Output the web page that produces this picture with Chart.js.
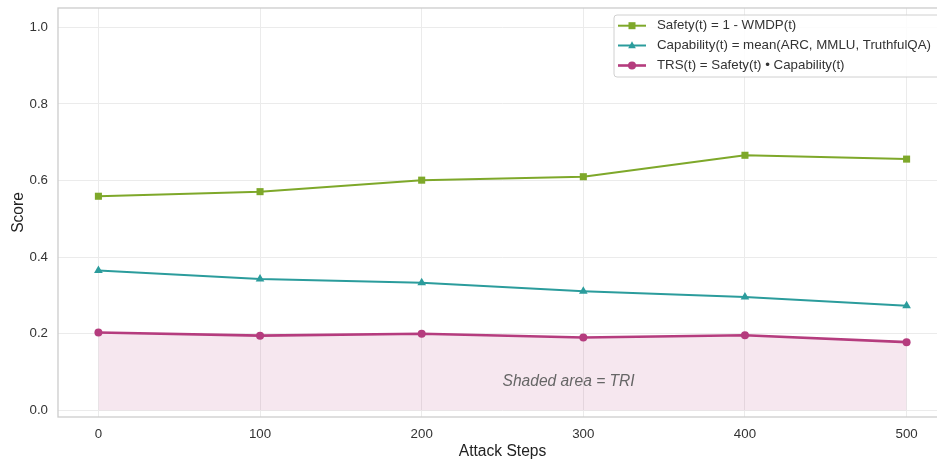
<!DOCTYPE html>
<html>
<head>
<meta charset="utf-8">
<script src="https://cdn.jsdelivr.net/npm/chart.js@4.4.1/dist/chart.umd.min.js"></script>
<style>
  html, body { margin: 0; padding: 0; background: #ffffff; overflow: hidden; width: 937px; height: 464px; }
  #wrap { position: absolute; left: 0; top: 0; width: 952px; height: 464px; }
</style>
</head>
<body>
<div id="wrap"><canvas id="c" width="952" height="464"></canvas></div>
<script>
const steps = [0, 100, 200, 300, 400, 500];
const safety = [0.559, 0.571, 0.601, 0.610, 0.666, 0.656];
const capability = [0.365, 0.343, 0.333, 0.311, 0.296, 0.273];
const trs = [0.203, 0.195, 0.200, 0.190, 0.196, 0.178];
const yTicks = [0.0, 0.2, 0.4, 0.6, 0.8, 1.0];
const xTicks = [0, 100, 200, 300, 400, 500];
const labels = {
  safety: 'Safety(t) = 1 - WMDP(t)',
  capability: 'Capability(t) = mean(ARC, MMLU, TruthfulQA)',
  trs: 'TRS(t) = Safety(t) \u2022 Capability(t)'
};
const annotationText = 'Shaded area = TRI';
const annotationPos = { x: 250, y: 0.075 };

const FONT = "'Liberation Sans', Arial, sans-serif";
const C_SAF = '#7ea82a';
const C_CAP = '#2b9c9c';
const C_TRS = '#b53c7e';

const pts = arr => steps.map((s, i) => ({ x: s, y: arr[i] }));

const framePlugin = {
  id: 'frame',
  afterDatasetsDraw(chart) {
    const { ctx, scales } = chart;
    ctx.save();
    ctx.font = "italic 15.6px " + FONT;
    ctx.fillStyle = '#666666';
    ctx.textAlign = 'left';
    ctx.textBaseline = 'middle';
    ctx.fillText(annotationText, scales.x.getPixelForValue(annotationPos.x), scales.y.getPixelForValue(annotationPos.y));
    ctx.restore();
  },
  afterDraw(chart) {
    const { ctx, chartArea: a } = chart;
    ctx.save();
    ctx.strokeStyle = '#cccccc';
    ctx.lineWidth = 1.3;
    ctx.strokeRect(a.left, a.top, a.right - a.left, a.bottom - a.top);
    // legend
    const x0 = 614, y0 = 15, w = 345, h = 62;
    ctx.beginPath();
    ctx.roundRect(x0, y0, w, h, 3);
    ctx.fillStyle = 'rgba(255,255,255,0.85)';
    ctx.fill();
    ctx.strokeStyle = '#d0d0d0';
    ctx.lineWidth = 1;
    ctx.stroke();
    const rows = [25.7, 45.5, 65.5];
    chart.data.datasets.forEach((ds, i) => {
      const y = rows[i];
      ctx.strokeStyle = ds.borderColor;
      ctx.lineWidth = ds.borderWidth;
      ctx.beginPath();
      ctx.moveTo(618, y);
      ctx.lineTo(646, y);
      ctx.stroke();
      ctx.fillStyle = ds.borderColor;
      if (ds.pointStyle === 'rect') {
        ctx.fillRect(632 - 3.5, y - 3.5, 7, 7);
      } else if (ds.pointStyle === 'triangle') {
        ctx.beginPath();
        ctx.moveTo(632, y - 4.2);
        ctx.lineTo(632 + 3.8, y + 2.8);
        ctx.lineTo(632 - 3.8, y + 2.8);
        ctx.closePath();
        ctx.fill();
      } else {
        ctx.beginPath();
        ctx.arc(632, y, 4, 0, Math.PI * 2);
        ctx.fill();
      }
      ctx.font = "13.3px " + FONT;
      ctx.fillStyle = '#333333';
      ctx.textAlign = 'left';
      ctx.textBaseline = 'middle';
      ctx.fillText(ds.label, 657, y);
    });
    ctx.restore();
  }
};

new Chart(document.getElementById('c'), {
  type: 'line',
  data: {
    datasets: [
      {
        label: labels.safety, data: pts(safety), borderColor: C_SAF, backgroundColor: C_SAF,
        borderWidth: 2, pointStyle: 'rect', pointRadius: 5, pointBorderWidth: 0, fill: false, tension: 0, order: 2
      },
      {
        label: labels.capability, data: pts(capability), borderColor: C_CAP, backgroundColor: C_CAP,
        borderWidth: 2, pointStyle: 'triangle', pointRadius: 5, pointBorderWidth: 0, fill: false, tension: 0, order: 3
      },
      {
        label: labels.trs, data: pts(trs), borderColor: C_TRS, pointBackgroundColor: C_TRS,
        backgroundColor: 'rgba(181,60,126,0.12)',
        borderWidth: 2.6, pointStyle: 'circle', pointRadius: 4, pointBorderWidth: 0, fill: 'origin', tension: 0, order: 1
      }
    ]
  },
  options: {
    responsive: false,
    animation: false,
    devicePixelRatio: 1,
    layout: { padding: { left: 0, top: 8, right: 2, bottom: 0 } },
    plugins: { legend: { display: false }, tooltip: { enabled: false } },
    elements: { line: { borderJoinStyle: 'round', borderCapStyle: 'round' } },
    scales: {
      x: {
        type: 'linear', min: -25, max: 525,
        afterFit: s => { s.height = 47; s.paddingLeft = 0; s.paddingRight = 0; },
        afterBuildTicks: s => { s.ticks = xTicks.map(v => ({ value: v })); },
        grid: { color: '#ebebeb', lineWidth: 1, drawTicks: false },
        border: { display: false },
        ticks: { padding: 9, color: '#333333', font: { family: FONT, size: 13.3 }, callback: v => String(v) },
        title: { display: true, text: 'Attack Steps', color: '#222222', font: { family: FONT, size: 15.6 }, padding: { top: 4, bottom: 3 } }
      },
      y: {
        type: 'linear', min: -0.0175, max: 1.0506,
        afterFit: s => { s.width = 58; s.paddingTop = 0; s.paddingBottom = 0; },
        afterBuildTicks: s => { s.ticks = yTicks.map(v => ({ value: v })); },
        grid: { color: '#ebebeb', lineWidth: 1, drawTicks: false },
        border: { display: false },
        ticks: { padding: 10, color: '#333333', font: { family: FONT, size: 13.3 }, callback: v => Number(v).toFixed(1) },
        title: { display: true, text: 'Score', color: '#222222', font: { family: FONT, size: 15.6 }, padding: { top: 9, bottom: 0 } }
      }
    }
  },
  plugins: [framePlugin]
});
</script>
</body>
</html>
